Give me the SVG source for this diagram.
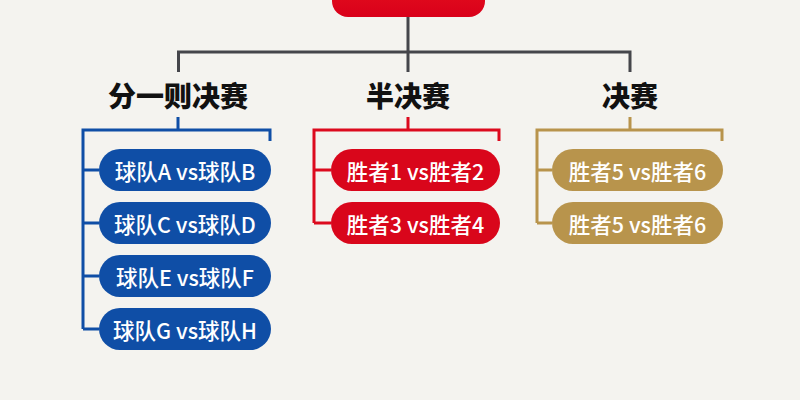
<svg xmlns="http://www.w3.org/2000/svg" width="800" height="400" viewBox="0 0 800 400">
<style>
.hdr{font-family:"Noto Sans CJK SC","Noto Sans",sans-serif;font-size:28px;font-weight:900;fill:#111;text-anchor:middle}
.pt{font-family:"Noto Sans CJK SC","Noto Sans",sans-serif;font-size:21.5px;font-weight:500;fill:#fff;text-anchor:middle;dominant-baseline:central}
.gray{stroke:#45464b;stroke-width:3;fill:none}
.blue{stroke:#0f4ea6;stroke-width:3;fill:none}
.red{stroke:#dc0a1e;stroke-width:3;fill:none}
.gold{stroke:#b8944c;stroke-width:3;fill:none}
.pb{fill:#0f4ea6}
.pr{fill:#d9061b}
.pg{fill:#b8944c}
</style>
<defs>
<linearGradient id="rg" x1="0" y1="0" x2="0" y2="1">
<stop offset="0" stop-color="#e8141f"/>
<stop offset="1" stop-color="#d9001a"/>
</linearGradient>
</defs>
<rect width="800" height="400" fill="#f4f3ef"/>
<g id="connectors">
<path class="gray" d="M408 17V72M178.5 72V52H630V72"/>
<path class="blue" d="M178 117V130M270 141V130H83V329M83 170H99M83 223H99M83 276H99M83 329H99"/>
<path class="red" d="M408 117V130M499 141V130H314V223M314 170H331M314 223H331"/>
<path class="gold" d="M630 117V130M722 141V130H537V223M537 170H552M537 223H552"/>
</g>
<g id="root"><rect x="332" y="-30" width="153" height="47" rx="16" fill="url(#rg)"/></g>
<g id="h1"><text class="hdr" x="178" y="107">分一则决赛</text></g>
<g id="h2"><text class="hdr" x="408" y="107">半决赛</text></g>
<g id="h3"><text class="hdr" x="630" y="107">决赛</text></g>
<g id="b1"><rect class="pb" x="99" y="149" width="172" height="42" rx="21"/><text class="pt" x="185" y="170">球队A vs球队B</text></g>
<g id="b2"><rect class="pb" x="99" y="202" width="172" height="42" rx="21"/><text class="pt" x="185" y="223">球队C vs球队D</text></g>
<g id="b3"><rect class="pb" x="99" y="255" width="172" height="42" rx="21"/><text class="pt" x="185" y="276">球队E vs球队F</text></g>
<g id="b4"><rect class="pb" x="99" y="308" width="172" height="42" rx="21"/><text class="pt" x="185" y="329">球队G vs球队H</text></g>
<g id="r1"><rect class="pr" x="331" y="149" width="169" height="42" rx="21"/><text class="pt" x="415.5" y="170">胜者1 vs胜者2</text></g>
<g id="r2"><rect class="pr" x="331" y="202" width="169" height="42" rx="21"/><text class="pt" x="415.5" y="223">胜者3 vs胜者4</text></g>
<g id="g1"><rect class="pg" x="552" y="149" width="171" height="42" rx="21"/><text class="pt" x="637.5" y="170">胜者5 vs胜者6</text></g>
<g id="g2"><rect class="pg" x="552" y="202" width="171" height="42" rx="21"/><text class="pt" x="637.5" y="223">胜者5 vs胜者6</text></g>
</svg>
